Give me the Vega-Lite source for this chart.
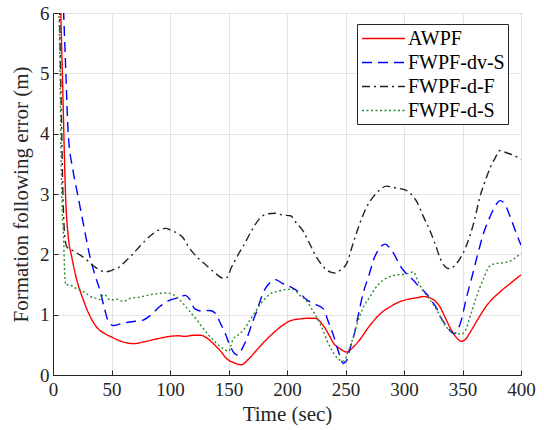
{
  "$schema": "https://vega.github.io/schema/vega-lite/v6.json",
  "width": 468,
  "height": 362,
  "autosize": "none",
  "padding": {"left": 53, "top": 13, "right": 23, "bottom": 55},
  "background": "white",
  "config": {
    "view": {"stroke": "#262626", "strokeWidth": 1},
    "axis": {
      "labelFont": "Times New Roman",
      "titleFont": "Times New Roman",
      "labelFontSize": 19,
      "titleFontSize": 21,
      "labelFontWeight": 400,
      "titleFontWeight": 400,
      "labelColor": "#262626",
      "titleColor": "#262626",
      "labelFlush": false,
      "labelOverlap": false,
      "domainColor": "#262626",
      "tickColor": "#262626",
      "tickSize": -5,
      "gridColor": "#e3e3e3"
    },
    "legend": {
      "labelFont": "Liberation Serif, Times New Roman, serif",
      "labelFontSize": 20,
      "labelColor": "#000000",
      "symbolType": "M-2,0L2,0",
      "symbolSize": 462,
      "symbolStrokeWidth": 1.5,
      "symbolOffset": 12,
      "strokeColor": "#262626",
      "fillColor": "white",
      "padding": 3,
      "rowPadding": 2,
      "labelOffset": 13
    }
  },
  "data": {
    "values": [
      {"t": 6, "v": 6.5, "s": "AWPF"},
      {"t": 8, "v": 5.0, "s": "AWPF"},
      {"t": 11, "v": 2.85, "s": "AWPF"},
      {"t": 13, "v": 2.3, "s": "AWPF"},
      {"t": 16, "v": 1.96, "s": "AWPF"},
      {"t": 20, "v": 1.6, "s": "AWPF"},
      {"t": 26, "v": 1.24, "s": "AWPF"},
      {"t": 31, "v": 1.0, "s": "AWPF"},
      {"t": 37, "v": 0.8, "s": "AWPF"},
      {"t": 43, "v": 0.7, "s": "AWPF"},
      {"t": 50, "v": 0.63, "s": "AWPF"},
      {"t": 58, "v": 0.56, "s": "AWPF"},
      {"t": 69, "v": 0.52, "s": "AWPF"},
      {"t": 78, "v": 0.55, "s": "AWPF"},
      {"t": 89, "v": 0.6, "s": "AWPF"},
      {"t": 100, "v": 0.64, "s": "AWPF"},
      {"t": 107, "v": 0.65, "s": "AWPF"},
      {"t": 113, "v": 0.64, "s": "AWPF"},
      {"t": 120, "v": 0.66, "s": "AWPF"},
      {"t": 126, "v": 0.66, "s": "AWPF"},
      {"t": 131, "v": 0.62, "s": "AWPF"},
      {"t": 137, "v": 0.52, "s": "AWPF"},
      {"t": 143, "v": 0.4, "s": "AWPF"},
      {"t": 148, "v": 0.28, "s": "AWPF"},
      {"t": 155, "v": 0.2, "s": "AWPF"},
      {"t": 161, "v": 0.17, "s": "AWPF"},
      {"t": 167, "v": 0.26, "s": "AWPF"},
      {"t": 174, "v": 0.41, "s": "AWPF"},
      {"t": 181, "v": 0.56, "s": "AWPF"},
      {"t": 188, "v": 0.69, "s": "AWPF"},
      {"t": 196, "v": 0.82, "s": "AWPF"},
      {"t": 203, "v": 0.9, "s": "AWPF"},
      {"t": 211, "v": 0.93, "s": "AWPF"},
      {"t": 218, "v": 0.94, "s": "AWPF"},
      {"t": 224, "v": 0.94, "s": "AWPF"},
      {"t": 231, "v": 0.82, "s": "AWPF"},
      {"t": 236, "v": 0.66, "s": "AWPF"},
      {"t": 240, "v": 0.52, "s": "AWPF"},
      {"t": 245, "v": 0.44, "s": "AWPF"},
      {"t": 251, "v": 0.38, "s": "AWPF"},
      {"t": 256, "v": 0.45, "s": "AWPF"},
      {"t": 262, "v": 0.58, "s": "AWPF"},
      {"t": 270, "v": 0.8, "s": "AWPF"},
      {"t": 280, "v": 1.02, "s": "AWPF"},
      {"t": 289, "v": 1.14, "s": "AWPF"},
      {"t": 297, "v": 1.22, "s": "AWPF"},
      {"t": 305, "v": 1.26, "s": "AWPF"},
      {"t": 311, "v": 1.28, "s": "AWPF"},
      {"t": 317, "v": 1.3, "s": "AWPF"},
      {"t": 322, "v": 1.28, "s": "AWPF"},
      {"t": 327, "v": 1.22, "s": "AWPF"},
      {"t": 331, "v": 1.12, "s": "AWPF"},
      {"t": 335, "v": 0.96, "s": "AWPF"},
      {"t": 339, "v": 0.8, "s": "AWPF"},
      {"t": 344, "v": 0.64, "s": "AWPF"},
      {"t": 349, "v": 0.56, "s": "AWPF"},
      {"t": 353, "v": 0.6, "s": "AWPF"},
      {"t": 356, "v": 0.69, "s": "AWPF"},
      {"t": 363, "v": 0.92, "s": "AWPF"},
      {"t": 371, "v": 1.16, "s": "AWPF"},
      {"t": 381, "v": 1.36, "s": "AWPF"},
      {"t": 391, "v": 1.52, "s": "AWPF"},
      {"t": 400, "v": 1.66, "s": "AWPF"},

      {"t": 9, "v": 6.05, "s": "FWPF-dv-S"},
      {"t": 11, "v": 5.0, "s": "FWPF-dv-S"},
      {"t": 13, "v": 4.0, "s": "FWPF-dv-S"},
      {"t": 17, "v": 3.4, "s": "FWPF-dv-S"},
      {"t": 21, "v": 3.0, "s": "FWPF-dv-S"},
      {"t": 26, "v": 2.5, "s": "FWPF-dv-S"},
      {"t": 31.6, "v": 1.96, "s": "FWPF-dv-S"},
      {"t": 36, "v": 1.65, "s": "FWPF-dv-S"},
      {"t": 40, "v": 1.41, "s": "FWPF-dv-S"},
      {"t": 44, "v": 1.1, "s": "FWPF-dv-S"},
      {"t": 48, "v": 0.86, "s": "FWPF-dv-S"},
      {"t": 52, "v": 0.82, "s": "FWPF-dv-S"},
      {"t": 60, "v": 0.86, "s": "FWPF-dv-S"},
      {"t": 70, "v": 0.89, "s": "FWPF-dv-S"},
      {"t": 77, "v": 0.91, "s": "FWPF-dv-S"},
      {"t": 84, "v": 1.0, "s": "FWPF-dv-S"},
      {"t": 91, "v": 1.13, "s": "FWPF-dv-S"},
      {"t": 100, "v": 1.24, "s": "FWPF-dv-S"},
      {"t": 107, "v": 1.28, "s": "FWPF-dv-S"},
      {"t": 113, "v": 1.32, "s": "FWPF-dv-S"},
      {"t": 117, "v": 1.25, "s": "FWPF-dv-S"},
      {"t": 121, "v": 1.1, "s": "FWPF-dv-S"},
      {"t": 127, "v": 1.06, "s": "FWPF-dv-S"},
      {"t": 134, "v": 1.07, "s": "FWPF-dv-S"},
      {"t": 139, "v": 1.02, "s": "FWPF-dv-S"},
      {"t": 143, "v": 0.86, "s": "FWPF-dv-S"},
      {"t": 147, "v": 0.7, "s": "FWPF-dv-S"},
      {"t": 151, "v": 0.5, "s": "FWPF-dv-S"},
      {"t": 155, "v": 0.36, "s": "FWPF-dv-S"},
      {"t": 158, "v": 0.33, "s": "FWPF-dv-S"},
      {"t": 162, "v": 0.45, "s": "FWPF-dv-S"},
      {"t": 166, "v": 0.62, "s": "FWPF-dv-S"},
      {"t": 170, "v": 0.85, "s": "FWPF-dv-S"},
      {"t": 174, "v": 1.05, "s": "FWPF-dv-S"},
      {"t": 180, "v": 1.38, "s": "FWPF-dv-S"},
      {"t": 184, "v": 1.5, "s": "FWPF-dv-S"},
      {"t": 190, "v": 1.58, "s": "FWPF-dv-S"},
      {"t": 196, "v": 1.52, "s": "FWPF-dv-S"},
      {"t": 203, "v": 1.46, "s": "FWPF-dv-S"},
      {"t": 211, "v": 1.36, "s": "FWPF-dv-S"},
      {"t": 216, "v": 1.26, "s": "FWPF-dv-S"},
      {"t": 222, "v": 1.19, "s": "FWPF-dv-S"},
      {"t": 231, "v": 1.1, "s": "FWPF-dv-S"},
      {"t": 235, "v": 0.9, "s": "FWPF-dv-S"},
      {"t": 240, "v": 0.64, "s": "FWPF-dv-S"},
      {"t": 245, "v": 0.33, "s": "FWPF-dv-S"},
      {"t": 248, "v": 0.19, "s": "FWPF-dv-S"},
      {"t": 251, "v": 0.24, "s": "FWPF-dv-S"},
      {"t": 254, "v": 0.45, "s": "FWPF-dv-S"},
      {"t": 257, "v": 0.64, "s": "FWPF-dv-S"},
      {"t": 261, "v": 1.0, "s": "FWPF-dv-S"},
      {"t": 265, "v": 1.35, "s": "FWPF-dv-S"},
      {"t": 270, "v": 1.65, "s": "FWPF-dv-S"},
      {"t": 274, "v": 1.91, "s": "FWPF-dv-S"},
      {"t": 279, "v": 2.1, "s": "FWPF-dv-S"},
      {"t": 284, "v": 2.17, "s": "FWPF-dv-S"},
      {"t": 288, "v": 2.1, "s": "FWPF-dv-S"},
      {"t": 291, "v": 2.02, "s": "FWPF-dv-S"},
      {"t": 297, "v": 1.8, "s": "FWPF-dv-S"},
      {"t": 302, "v": 1.68, "s": "FWPF-dv-S"},
      {"t": 308, "v": 1.57, "s": "FWPF-dv-S"},
      {"t": 313, "v": 1.46, "s": "FWPF-dv-S"},
      {"t": 319, "v": 1.35, "s": "FWPF-dv-S"},
      {"t": 324, "v": 1.22, "s": "FWPF-dv-S"},
      {"t": 328, "v": 1.1, "s": "FWPF-dv-S"},
      {"t": 331, "v": 0.97, "s": "FWPF-dv-S"},
      {"t": 336, "v": 0.82, "s": "FWPF-dv-S"},
      {"t": 340, "v": 0.72, "s": "FWPF-dv-S"},
      {"t": 343, "v": 0.68, "s": "FWPF-dv-S"},
      {"t": 346, "v": 0.75, "s": "FWPF-dv-S"},
      {"t": 349, "v": 0.91, "s": "FWPF-dv-S"},
      {"t": 353, "v": 1.25, "s": "FWPF-dv-S"},
      {"t": 358, "v": 1.62, "s": "FWPF-dv-S"},
      {"t": 363, "v": 2.0, "s": "FWPF-dv-S"},
      {"t": 368, "v": 2.35, "s": "FWPF-dv-S"},
      {"t": 373, "v": 2.6, "s": "FWPF-dv-S"},
      {"t": 378, "v": 2.8, "s": "FWPF-dv-S"},
      {"t": 382, "v": 2.89, "s": "FWPF-dv-S"},
      {"t": 386, "v": 2.84, "s": "FWPF-dv-S"},
      {"t": 390, "v": 2.66, "s": "FWPF-dv-S"},
      {"t": 395, "v": 2.4, "s": "FWPF-dv-S"},
      {"t": 400, "v": 2.15, "s": "FWPF-dv-S"},

      {"t": 5.5, "v": 6.1, "s": "FWPF-d-F"},
      {"t": 7, "v": 4.5, "s": "FWPF-d-F"},
      {"t": 8.5, "v": 3.0, "s": "FWPF-d-F"},
      {"t": 10, "v": 2.3, "s": "FWPF-d-F"},
      {"t": 12, "v": 2.12, "s": "FWPF-d-F"},
      {"t": 17, "v": 2.06, "s": "FWPF-d-F"},
      {"t": 23, "v": 1.99, "s": "FWPF-d-F"},
      {"t": 28, "v": 1.92, "s": "FWPF-d-F"},
      {"t": 34, "v": 1.82, "s": "FWPF-d-F"},
      {"t": 39, "v": 1.75, "s": "FWPF-d-F"},
      {"t": 44, "v": 1.71, "s": "FWPF-d-F"},
      {"t": 48, "v": 1.72, "s": "FWPF-d-F"},
      {"t": 52, "v": 1.75, "s": "FWPF-d-F"},
      {"t": 56, "v": 1.78, "s": "FWPF-d-F"},
      {"t": 60, "v": 1.85, "s": "FWPF-d-F"},
      {"t": 67, "v": 1.98, "s": "FWPF-d-F"},
      {"t": 74, "v": 2.13, "s": "FWPF-d-F"},
      {"t": 80, "v": 2.25, "s": "FWPF-d-F"},
      {"t": 86, "v": 2.35, "s": "FWPF-d-F"},
      {"t": 91, "v": 2.41, "s": "FWPF-d-F"},
      {"t": 96, "v": 2.43, "s": "FWPF-d-F"},
      {"t": 101, "v": 2.4, "s": "FWPF-d-F"},
      {"t": 107, "v": 2.34, "s": "FWPF-d-F"},
      {"t": 111, "v": 2.28, "s": "FWPF-d-F"},
      {"t": 115, "v": 2.15, "s": "FWPF-d-F"},
      {"t": 120, "v": 2.02, "s": "FWPF-d-F"},
      {"t": 125, "v": 1.92, "s": "FWPF-d-F"},
      {"t": 131, "v": 1.82, "s": "FWPF-d-F"},
      {"t": 138, "v": 1.7, "s": "FWPF-d-F"},
      {"t": 146, "v": 1.6, "s": "FWPF-d-F"},
      {"t": 149, "v": 1.62, "s": "FWPF-d-F"},
      {"t": 152, "v": 1.76, "s": "FWPF-d-F"},
      {"t": 157, "v": 1.95, "s": "FWPF-d-F"},
      {"t": 163, "v": 2.15, "s": "FWPF-d-F"},
      {"t": 170, "v": 2.4, "s": "FWPF-d-F"},
      {"t": 177, "v": 2.6, "s": "FWPF-d-F"},
      {"t": 183, "v": 2.67, "s": "FWPF-d-F"},
      {"t": 190, "v": 2.68, "s": "FWPF-d-F"},
      {"t": 196, "v": 2.65, "s": "FWPF-d-F"},
      {"t": 203, "v": 2.64, "s": "FWPF-d-F"},
      {"t": 208, "v": 2.52, "s": "FWPF-d-F"},
      {"t": 214, "v": 2.38, "s": "FWPF-d-F"},
      {"t": 220, "v": 2.15, "s": "FWPF-d-F"},
      {"t": 225, "v": 1.96, "s": "FWPF-d-F"},
      {"t": 230, "v": 1.82, "s": "FWPF-d-F"},
      {"t": 234, "v": 1.74, "s": "FWPF-d-F"},
      {"t": 238, "v": 1.7, "s": "FWPF-d-F"},
      {"t": 241, "v": 1.69, "s": "FWPF-d-F"},
      {"t": 245, "v": 1.73, "s": "FWPF-d-F"},
      {"t": 251, "v": 1.85, "s": "FWPF-d-F"},
      {"t": 256, "v": 2.15, "s": "FWPF-d-F"},
      {"t": 262, "v": 2.5, "s": "FWPF-d-F"},
      {"t": 268, "v": 2.78, "s": "FWPF-d-F"},
      {"t": 274, "v": 2.96, "s": "FWPF-d-F"},
      {"t": 280, "v": 3.08, "s": "FWPF-d-F"},
      {"t": 285, "v": 3.13, "s": "FWPF-d-F"},
      {"t": 293, "v": 3.1, "s": "FWPF-d-F"},
      {"t": 302, "v": 3.06, "s": "FWPF-d-F"},
      {"t": 306, "v": 3.0, "s": "FWPF-d-F"},
      {"t": 311, "v": 2.87, "s": "FWPF-d-F"},
      {"t": 316, "v": 2.65, "s": "FWPF-d-F"},
      {"t": 322, "v": 2.4, "s": "FWPF-d-F"},
      {"t": 327, "v": 2.15, "s": "FWPF-d-F"},
      {"t": 331, "v": 1.93, "s": "FWPF-d-F"},
      {"t": 335, "v": 1.8, "s": "FWPF-d-F"},
      {"t": 339, "v": 1.76, "s": "FWPF-d-F"},
      {"t": 345, "v": 1.85, "s": "FWPF-d-F"},
      {"t": 350, "v": 2.0, "s": "FWPF-d-F"},
      {"t": 354, "v": 2.18, "s": "FWPF-d-F"},
      {"t": 360, "v": 2.55, "s": "FWPF-d-F"},
      {"t": 365, "v": 2.96, "s": "FWPF-d-F"},
      {"t": 370, "v": 3.25, "s": "FWPF-d-F"},
      {"t": 374, "v": 3.45, "s": "FWPF-d-F"},
      {"t": 378, "v": 3.6, "s": "FWPF-d-F"},
      {"t": 382, "v": 3.72, "s": "FWPF-d-F"},
      {"t": 388, "v": 3.68, "s": "FWPF-d-F"},
      {"t": 394, "v": 3.64, "s": "FWPF-d-F"},
      {"t": 400, "v": 3.57, "s": "FWPF-d-F"},

      {"t": 5, "v": 6.1, "s": "FWPF-d-S"},
      {"t": 6, "v": 5.0, "s": "FWPF-d-S"},
      {"t": 7, "v": 3.5, "s": "FWPF-d-S"},
      {"t": 8, "v": 2.7, "s": "FWPF-d-S"},
      {"t": 9, "v": 2.3, "s": "FWPF-d-S"},
      {"t": 10, "v": 1.7, "s": "FWPF-d-S"},
      {"t": 11, "v": 1.49, "s": "FWPF-d-S"},
      {"t": 14, "v": 1.5, "s": "FWPF-d-S"},
      {"t": 18, "v": 1.45, "s": "FWPF-d-S"},
      {"t": 22, "v": 1.42, "s": "FWPF-d-S"},
      {"t": 26, "v": 1.38, "s": "FWPF-d-S"},
      {"t": 30, "v": 1.33, "s": "FWPF-d-S"},
      {"t": 34, "v": 1.28, "s": "FWPF-d-S"},
      {"t": 37, "v": 1.27, "s": "FWPF-d-S"},
      {"t": 40, "v": 1.25, "s": "FWPF-d-S"},
      {"t": 43, "v": 1.33, "s": "FWPF-d-S"},
      {"t": 45, "v": 1.32, "s": "FWPF-d-S"},
      {"t": 49, "v": 1.24, "s": "FWPF-d-S"},
      {"t": 54, "v": 1.26, "s": "FWPF-d-S"},
      {"t": 60, "v": 1.22, "s": "FWPF-d-S"},
      {"t": 66, "v": 1.27, "s": "FWPF-d-S"},
      {"t": 74, "v": 1.29, "s": "FWPF-d-S"},
      {"t": 83, "v": 1.33, "s": "FWPF-d-S"},
      {"t": 90, "v": 1.35, "s": "FWPF-d-S"},
      {"t": 97, "v": 1.36, "s": "FWPF-d-S"},
      {"t": 103, "v": 1.33, "s": "FWPF-d-S"},
      {"t": 107, "v": 1.27, "s": "FWPF-d-S"},
      {"t": 111, "v": 1.19, "s": "FWPF-d-S"},
      {"t": 117, "v": 1.05, "s": "FWPF-d-S"},
      {"t": 123, "v": 0.91, "s": "FWPF-d-S"},
      {"t": 128, "v": 0.78, "s": "FWPF-d-S"},
      {"t": 134, "v": 0.64, "s": "FWPF-d-S"},
      {"t": 139, "v": 0.54, "s": "FWPF-d-S"},
      {"t": 143, "v": 0.47, "s": "FWPF-d-S"},
      {"t": 147, "v": 0.42, "s": "FWPF-d-S"},
      {"t": 150, "v": 0.39, "s": "FWPF-d-S"},
      {"t": 152, "v": 0.48, "s": "FWPF-d-S"},
      {"t": 154, "v": 0.6, "s": "FWPF-d-S"},
      {"t": 158, "v": 0.66, "s": "FWPF-d-S"},
      {"t": 163, "v": 0.75, "s": "FWPF-d-S"},
      {"t": 168, "v": 0.9, "s": "FWPF-d-S"},
      {"t": 174, "v": 1.08, "s": "FWPF-d-S"},
      {"t": 180, "v": 1.24, "s": "FWPF-d-S"},
      {"t": 186, "v": 1.35, "s": "FWPF-d-S"},
      {"t": 193, "v": 1.39, "s": "FWPF-d-S"},
      {"t": 200, "v": 1.42, "s": "FWPF-d-S"},
      {"t": 205, "v": 1.42, "s": "FWPF-d-S"},
      {"t": 211, "v": 1.32, "s": "FWPF-d-S"},
      {"t": 217, "v": 1.22, "s": "FWPF-d-S"},
      {"t": 221, "v": 1.1, "s": "FWPF-d-S"},
      {"t": 225, "v": 0.97, "s": "FWPF-d-S"},
      {"t": 230, "v": 0.78, "s": "FWPF-d-S"},
      {"t": 234, "v": 0.58, "s": "FWPF-d-S"},
      {"t": 238, "v": 0.42, "s": "FWPF-d-S"},
      {"t": 242, "v": 0.3, "s": "FWPF-d-S"},
      {"t": 246, "v": 0.24, "s": "FWPF-d-S"},
      {"t": 249, "v": 0.23, "s": "FWPF-d-S"},
      {"t": 251, "v": 0.32, "s": "FWPF-d-S"},
      {"t": 254, "v": 0.47, "s": "FWPF-d-S"},
      {"t": 258, "v": 0.72, "s": "FWPF-d-S"},
      {"t": 262, "v": 0.97, "s": "FWPF-d-S"},
      {"t": 266, "v": 1.15, "s": "FWPF-d-S"},
      {"t": 271, "v": 1.3, "s": "FWPF-d-S"},
      {"t": 276, "v": 1.45, "s": "FWPF-d-S"},
      {"t": 282, "v": 1.57, "s": "FWPF-d-S"},
      {"t": 288, "v": 1.63, "s": "FWPF-d-S"},
      {"t": 294, "v": 1.66, "s": "FWPF-d-S"},
      {"t": 300, "v": 1.67, "s": "FWPF-d-S"},
      {"t": 305, "v": 1.69, "s": "FWPF-d-S"},
      {"t": 308, "v": 1.71, "s": "FWPF-d-S"},
      {"t": 312, "v": 1.55, "s": "FWPF-d-S"},
      {"t": 316, "v": 1.41, "s": "FWPF-d-S"},
      {"t": 322, "v": 1.25, "s": "FWPF-d-S"},
      {"t": 328, "v": 1.08, "s": "FWPF-d-S"},
      {"t": 332, "v": 0.93, "s": "FWPF-d-S"},
      {"t": 336, "v": 0.8, "s": "FWPF-d-S"},
      {"t": 341, "v": 0.72, "s": "FWPF-d-S"},
      {"t": 345, "v": 0.68, "s": "FWPF-d-S"},
      {"t": 349, "v": 0.68, "s": "FWPF-d-S"},
      {"t": 352, "v": 0.72, "s": "FWPF-d-S"},
      {"t": 357, "v": 1.0, "s": "FWPF-d-S"},
      {"t": 362, "v": 1.3, "s": "FWPF-d-S"},
      {"t": 368, "v": 1.6, "s": "FWPF-d-S"},
      {"t": 373, "v": 1.8, "s": "FWPF-d-S"},
      {"t": 379, "v": 1.85, "s": "FWPF-d-S"},
      {"t": 385, "v": 1.86, "s": "FWPF-d-S"},
      {"t": 390, "v": 1.88, "s": "FWPF-d-S"},
      {"t": 395, "v": 1.94, "s": "FWPF-d-S"},
      {"t": 400, "v": 2.02, "s": "FWPF-d-S"}
    ]
  },
  "mark": {"type": "line", "interpolate": "monotone", "clip": true, "strokeWidth": 1.4},
  "encoding": {
    "x": {
      "field": "t", "type": "quantitative",
      "scale": {"domain": [0, 400], "nice": false, "zero": false},
      "axis": {"values": [0, 50, 100, 150, 200, 250, 300, 350, 400], "title": "Time (sec)", "labelPadding": 10, "titlePadding": 4, "grid": true}
    },
    "y": {
      "field": "v", "type": "quantitative",
      "scale": {"domain": [0, 6], "nice": false},
      "axis": {"values": [0, 1, 2, 3, 4, 5, 6], "title": "Formation following error (m)", "labelPadding": 9, "titlePadding": 8, "grid": true}
    },
    "color": {
      "field": "s", "type": "nominal",
      "scale": {"domain": ["AWPF", "FWPF-dv-S", "FWPF-d-F", "FWPF-d-S"], "range": ["#ff0000", "#0000ff", "#222222", "#2b8a2b"]},
      "legend": {"title": null, "orient": "none", "legendX": 304, "legendY": 11}
    },
    "strokeDash": {
      "field": "s", "type": "nominal",
      "scale": {"domain": ["AWPF", "FWPF-dv-S", "FWPF-d-F", "FWPF-d-S"], "range": [[1, 0], [10, 6], [8, 4, 2, 4], [2, 2.5]]},
      "legend": {"title": null, "orient": "none", "legendX": 304, "legendY": 11}
    }
  }
}
